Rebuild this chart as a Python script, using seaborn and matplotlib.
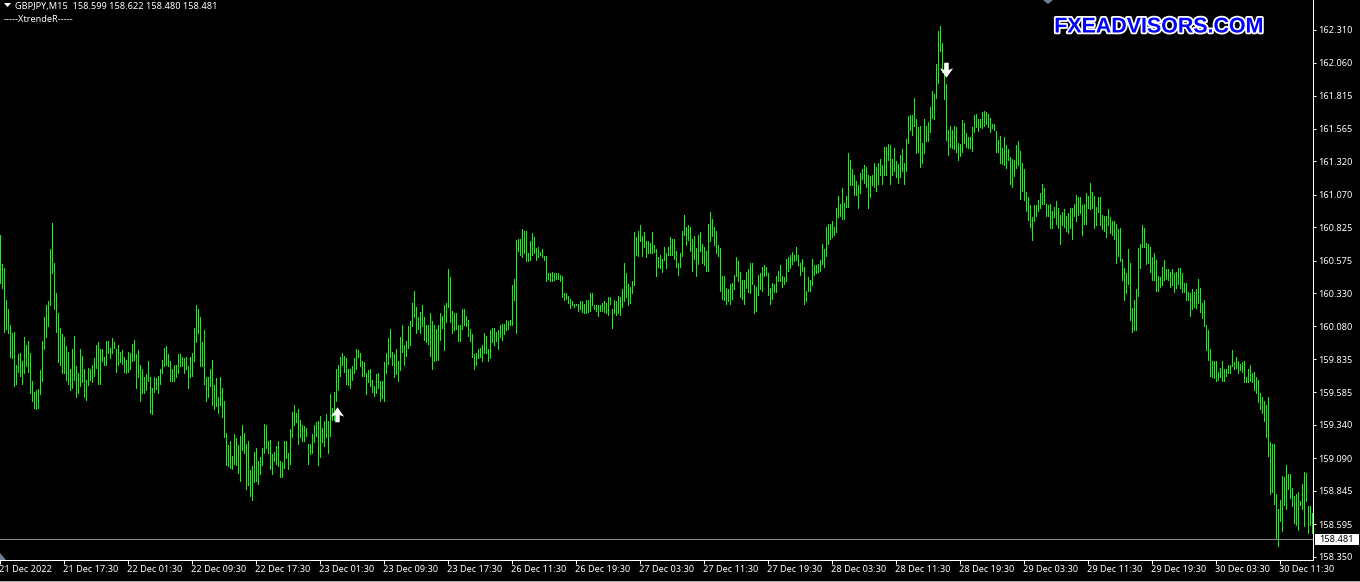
import numpy as np
import pandas as pd
import matplotlib
matplotlib.use("Agg")
import matplotlib.pyplot as plt
import matplotlib.patheffects as pe
from matplotlib.path import Path
import seaborn as sns

highs_a = [160.77,160.55,160.52,160.28,160.21,160.09,160.03,160.04,159.79,159.87,159.88,159.82,160.00,159.94,159.97,159.88,159.67,159.59,159.60,159.61,
159.75,159.97,160.15,160.24,160.27,160.66,160.86,160.56,160.33,160.18,160.07,160.02,160.00,159.93,159.89,159.76,159.91,160.01,159.78,159.73,
159.91,159.86,159.76,159.68,159.77,159.76,159.79,159.84,159.94,159.96,159.91,159.91,159.85,159.97,159.97,159.92,159.99,159.96,159.91,159.94,
159.89,159.90,159.85,159.83,159.89,159.88,159.95,159.98,159.87,159.90,159.79,159.76,159.70,159.72,159.82,159.70,159.62,159.70,159.69,159.71,
159.76,159.83,159.92,159.93,159.87,159.82,159.76,159.79,159.79,159.87,159.87,159.85,159.84,159.85,159.78,159.85,159.88,160.07,160.24,160.21,
160.15,159.96,160.05,159.70,159.70,159.76,159.83,159.64,159.69,159.55,159.70,159.62,159.52,159.28,159.19,159.22,159.11,159.27,159.24,159.19,
159.26,159.34,159.28,159.20,159.22,159.00,159.03,159.14,159.17,159.07,159.10,159.17,159.35,159.34,159.22,159.23,159.12,159.14,159.18,159.22,
159.07,159.06,159.22,159.22,159.13,159.31,159.44,159.49,159.43,159.46,159.38,159.34,159.33,159.32,159.20,159.20,159.27,159.34,159.36,159.37,
159.41,159.32,159.37,159.42,159.37]
lows_a = [160.41,160.37,160.04,160.06,160.03,159.85,159.84,159.63,159.65,159.74,159.71,159.65,159.73,159.78,159.74,159.58,159.52,159.47,159.46,159.47,
159.57,159.67,159.91,160.00,160.08,160.24,160.48,160.21,160.04,159.81,159.79,159.73,159.73,159.68,159.65,159.60,159.62,159.68,159.55,159.58,
159.63,159.66,159.55,159.53,159.64,159.68,159.66,159.71,159.77,159.65,159.65,159.82,159.79,159.79,159.88,159.84,159.88,159.92,159.74,159.79,
159.81,159.80,159.74,159.73,159.74,159.76,159.82,159.83,159.62,159.70,159.52,159.58,159.58,159.60,159.67,159.43,159.42,159.59,159.61,159.58,
159.65,159.73,159.78,159.79,159.78,159.67,159.67,159.67,159.70,159.73,159.78,159.78,159.73,159.76,159.62,159.70,159.71,159.82,159.96,160.03,
159.78,159.78,159.65,159.52,159.55,159.63,159.49,159.46,159.48,159.43,159.49,159.40,159.25,159.04,159.03,159.02,159.01,159.05,159.04,158.98,
158.92,159.15,159.13,158.86,158.89,158.81,158.78,158.91,158.92,158.90,158.97,159.04,159.13,159.17,159.13,159.01,158.97,159.07,159.05,159.03,
158.95,158.95,159.02,159.09,159.01,159.05,159.25,159.34,159.36,159.20,159.25,159.22,159.22,159.26,159.05,159.12,159.13,159.21,159.26,159.04,
159.10,159.21,159.18,159.25,159.13]

highs_b = [159.57,159.47,159.59,159.76,159.79,159.85,159.88,159.86,159.84,159.76,159.76,159.78,159.84,159.91,159.90,159.88,159.82,159.81,159.73,159.75,
159.76,159.68,159.63,159.72,159.73,159.67,159.67,159.81,159.88,159.99,160.06,159.89,159.87,159.91,159.82,160.00,160.09,159.94,159.97,160.08,
160.12,160.26,160.35,160.23,160.15,160.19,160.24,160.15,160.09,160.09,160.18,160.12,160.09,160.06,160.09,160.18,160.16,160.24,160.26,160.51,
160.45,160.20,160.18,160.18,160.09,160.09,160.21,160.21,160.16,160.13,160.06,160.02,159.87,159.88,159.91,159.92,159.94,160.03,160.01,159.91,
160.05,160.07,160.07,160.04,160.05,160.09,160.10,160.10,160.13,160.12,160.13,160.39,160.44,160.73,160.74,160.74,160.81,160.80,160.80,160.63,
160.72,160.78,160.75,160.67,160.68,160.64,160.66,160.61,160.61,160.48,160.48,160.49,160.48,160.48,160.48,160.47,160.46,160.33,160.33,160.31,
160.29,160.27,160.25,160.25,160.25,160.27,160.27,160.25,160.28,160.28,160.33,160.33,160.24,160.24,160.24,160.24,160.26,160.27,160.26,160.30,
160.30,160.21,160.28,160.27,160.31,160.30,160.36,160.56,160.48,160.40,160.38,160.42,160.79,160.75,160.80,160.84,160.76,160.79,160.72,160.72,
160.71,160.79,160.69,160.66,160.60]
lows_b = [159.26,159.38,159.38,159.52,159.60,159.71,159.79,159.74,159.65,159.64,159.62,159.68,159.73,159.76,159.85,159.78,159.71,159.71,159.57,159.66,
159.63,159.59,159.56,159.58,159.62,159.52,159.54,159.52,159.73,159.80,159.85,159.79,159.70,159.72,159.67,159.75,159.89,159.79,159.86,159.92,
159.94,160.08,160.15,160.03,160.06,160.03,160.08,159.98,159.96,159.95,159.86,159.76,159.82,159.83,159.83,159.98,160.07,159.90,160.11,160.23,
160.11,160.03,160.05,160.06,159.97,159.97,160.06,160.09,160.08,160.01,159.97,159.85,159.76,159.79,159.84,159.85,159.82,159.88,159.88,159.82,
159.84,159.96,159.94,159.97,159.91,160.00,159.98,160.02,160.05,160.06,160.09,160.09,160.28,160.03,160.65,160.62,160.60,160.63,160.57,160.57,
160.58,160.62,160.63,160.58,160.60,160.62,160.60,160.58,160.42,160.44,160.42,160.42,160.43,160.44,160.44,160.42,160.30,160.28,160.29,160.26,
160.22,160.24,160.23,160.24,160.20,160.21,160.19,160.18,160.18,160.19,160.20,160.24,160.21,160.20,160.16,160.20,160.20,160.19,160.18,160.17,
160.25,160.07,160.18,160.17,160.18,160.17,160.23,160.27,160.30,160.24,160.26,160.33,160.39,160.62,160.61,160.72,160.61,160.68,160.60,160.63,
160.63,160.63,160.64,160.46,160.53]

highs_c = [160.62,160.59,160.68,160.63,160.68,160.75,160.74,160.74,160.65,160.56,160.63,160.80,160.92,160.83,160.84,160.83,160.74,160.76,160.67,160.77,
160.79,160.70,160.68,160.65,160.85,160.94,160.89,160.83,160.80,160.69,160.67,160.46,160.46,160.37,160.36,160.40,160.41,160.47,160.60,160.57,
160.49,160.43,160.43,160.49,160.51,160.56,160.56,160.39,160.38,160.47,160.48,160.53,160.54,160.53,160.48,160.37,160.41,160.40,160.46,160.50,
160.54,160.46,160.45,160.59,160.60,160.62,160.64,160.62,160.68,160.62,160.56,160.59,160.53,160.35,160.45,160.43,160.59,160.54,160.54,160.55,
160.58,160.70,160.66,160.83,160.85,160.85,160.87,160.83,160.97,161.06,161.00,161.12,161.01,161.06,161.38,161.33,161.26,161.22,161.17,161.14,
161.23,161.26,161.29,161.28,161.22,161.21,161.22,161.31,161.28,161.31,161.34,161.29,161.43,161.43,161.45,161.44,161.34,161.42,161.32,161.30,
161.37,161.41,161.31,161.49,161.66,161.67,161.67,161.80,161.64,161.58,161.59,161.46,161.64,161.59,161.62,161.73,161.85,161.83,162.05,162.30,
162.34,162.21,162.05,161.90,161.56,161.59,161.56,161.59,161.58,161.46,161.45,161.63,161.61,161.53,161.50,161.50,161.58,161.67,161.68,161.64,
161.64,161.69,161.70,161.69,161.68]
lows_c = [160.52,160.49,160.58,160.52,160.62,160.62,160.62,160.59,160.53,160.47,160.53,160.61,160.77,160.69,160.73,160.65,160.50,160.59,160.46,160.55,
160.65,160.56,160.54,160.50,160.50,160.72,160.76,160.69,160.63,160.61,160.35,160.29,160.28,160.25,160.27,160.25,160.29,160.36,160.46,160.42,
160.30,160.29,160.25,160.37,160.34,160.33,160.40,160.18,160.20,160.32,160.36,160.35,160.46,160.47,160.32,160.25,160.29,160.34,160.34,160.42,
160.42,160.38,160.40,160.42,160.50,160.52,160.55,160.57,160.58,160.54,160.47,160.50,160.25,160.27,160.35,160.35,160.39,160.47,160.48,160.49,
160.50,160.55,160.53,160.61,160.70,160.74,160.75,160.77,160.79,160.90,160.91,160.89,160.89,160.98,160.98,161.14,161.14,161.07,161.07,160.97,
161.08,161.19,161.16,161.13,160.97,161.05,161.14,161.13,161.10,161.15,161.22,161.15,161.22,161.22,161.33,161.15,161.22,161.25,161.20,161.16,
161.20,161.25,161.15,161.25,161.46,161.56,161.52,161.59,161.38,161.39,161.28,161.31,161.38,161.47,161.47,161.54,161.65,161.64,161.80,161.91,
162.15,161.99,161.79,161.48,161.37,161.43,161.42,161.41,161.39,161.33,161.36,161.39,161.46,161.43,161.42,161.42,161.40,161.54,161.58,161.55,
161.58,161.57,161.59,161.60,161.58]

highs_d = [161.65,161.60,161.60,161.55,161.48,161.51,161.42,161.50,161.44,161.41,161.35,161.34,161.33,161.44,161.47,161.40,161.31,161.26,161.09,161.05,
160.99,160.90,160.99,160.99,161.03,161.08,161.15,161.12,161.00,160.99,161.00,160.95,160.98,161.02,160.97,160.92,160.94,160.96,160.91,160.93,
160.97,160.97,161.00,161.07,161.05,161.05,160.99,161.00,161.08,161.06,161.16,161.09,161.06,160.98,161.05,161.05,160.92,160.91,160.91,160.96,
160.90,160.87,160.87,160.85,160.81,160.82,160.59,160.52,160.48,160.66,160.56,160.22,160.28,160.36,160.67,160.70,160.84,160.82,160.71,160.70,
160.68,160.60,160.63,160.58,160.46,160.45,160.53,160.58,160.51,160.51,160.49,160.51,160.48,160.49,160.52,160.52,160.48,160.41,160.41,160.34,
160.33,160.36,160.34,160.36,160.44,160.37,160.26,160.28,160.09,160.05]
lows_d = [161.54,161.57,161.56,161.39,161.39,161.31,161.30,161.29,161.27,161.33,161.15,161.13,161.21,161.27,161.29,161.04,161.10,161.03,160.95,160.88,
160.83,160.73,160.87,160.91,160.95,160.97,161.00,161.00,160.91,160.91,160.82,160.82,160.90,160.85,160.82,160.70,160.84,160.83,160.80,160.78,
160.82,160.74,160.91,160.87,160.92,160.93,160.77,160.85,160.85,160.97,160.96,160.97,160.82,160.84,160.94,160.84,160.81,160.80,160.75,160.84,
160.78,160.77,160.74,160.56,160.61,160.57,160.43,160.28,160.33,160.40,160.13,160.04,160.05,160.05,160.31,160.52,160.68,160.68,160.55,160.56,
160.49,160.43,160.43,160.35,160.35,160.38,160.39,160.43,160.44,160.43,160.38,160.39,160.34,160.37,160.40,160.37,160.34,160.34,160.28,160.28,
160.16,160.21,160.23,160.22,160.26,160.19,160.14,160.08,159.90,159.83]

highs_e = [159.91,159.82,159.82,159.82,159.74,159.77,159.82,159.76,159.76,159.79,159.79,159.90,159.81,159.85,159.82,159.80,159.81,159.82,159.70,159.76,
159.79,159.73,159.74,159.70,159.68,159.58,159.55,159.52,159.49,159.55,159.21,159.20,159.20,158.82,158.71,158.78,158.96,158.95,159.04,158.97,
158.97,158.87,158.81,158.82,158.84,158.77,158.90,158.99,158.98,158.73,158.73,158.68]
lows_e = [159.71,159.70,159.69,159.67,159.68,159.70,159.67,159.67,159.71,159.73,159.73,159.78,159.76,159.77,159.73,159.75,159.74,159.66,159.66,159.66,
159.67,159.66,159.60,159.58,159.51,159.46,159.43,159.37,159.25,159.11,158.82,158.84,158.75,158.49,158.43,158.62,158.54,158.74,158.71,158.86,
158.79,158.73,158.60,158.59,158.55,158.74,158.71,158.58,158.77,158.53,158.59,158.53]

y_ticks = [162.310,162.060,161.815,161.565,161.320,161.070,160.825,160.575,160.330,160.080,
           159.835,159.585,159.340,159.090,158.845,158.595,158.350]
x_labels = ["21 Dec 2022","21 Dec 17:30","22 Dec 01:30","22 Dec 09:30","22 Dec 17:30","23 Dec 01:30",
            "23 Dec 09:30","23 Dec 17:30","26 Dec 11:30","26 Dec 19:30","27 Dec 03:30","27 Dec 11:30",
            "27 Dec 19:30","28 Dec 03:30","28 Dec 11:30","28 Dec 19:30","29 Dec 03:30","29 Dec 11:30",
            "29 Dec 19:30","30 Dec 03:30","30 Dec 11:30"]
bid = 158.481
buy_signal = (168.5, 159.42)
sell_signal = (472.8, 162.01)

highs = highs_a + highs_b + highs_c + highs_d + highs_e
lows = lows_a + lows_b + lows_c + lows_d + lows_e
n = len(highs)
assert n == len(lows)
bars = np.arange(n)

FONT = "Noto Sans"
FS = 6.6
W, H = 1360, 582
sns.set_theme(style="dark", rc={"axes.grid": False})
plt.rcParams["font.family"] = [FONT, "DejaVu Sans"]
plt.rcParams["lines.antialiased"] = False

fig = plt.figure(figsize=(W / 100, H / 100), dpi=100, facecolor="black")
ax = fig.add_axes([0, (H - 560.2) / H, 1313.2 / W, 560.2 / H], facecolor="black")

df = pd.DataFrame({
    "bar": np.concatenate([bars, bars]),
    "price": highs + lows,
})
sns.lineplot(data=df, x="bar", y="price", units="bar", estimator=None, color="#00ff00",
             linewidth=0.72, ax=ax, legend=False, sort=False, solid_capstyle="butt",
             antialiased=False)

ax.set_xlim(-0.125, 656.475)
ax.set_ylim(158.324, 162.533)
ax.axhline(bid, color="#8c8c8c", lw=0.72, antialiased=False)

for s in ["top", "left"]:
    ax.spines[s].set_visible(False)
for s in ["right", "bottom"]:
    ax.spines[s].set_color("white")
    ax.spines[s].set_linewidth(0.72)
    ax.spines[s].set_antialiased(False)

ax.set_xticks(np.arange(len(x_labels)) * 32)
ax.set_xticklabels(x_labels, ha="left", color="white", fontsize=FS)
ax.set_yticks(y_ticks)
ax.set_yticklabels([f"{v:.3f}" for v in y_ticks], color="white", fontsize=FS)
ax.yaxis.tick_right()
ax.tick_params(axis="x", length=3, width=0.72, color="white", pad=0.5, bottom=True)
ax.tick_params(axis="y", length=2.5, width=0.72, color="white", pad=1, right=True, left=False)
ax.set_xlabel("")
ax.set_ylabel("")
for lab in ax.get_xticklabels():
    lab.set_transform(lab.get_transform() + matplotlib.transforms.Affine2D().translate(-1.5, 0))

up = Path([(-6, -2), (0, 6.5), (6, -2), (2, -0.5), (2, -7), (-2, -7), (-2, -0.5), (-6, -2)], closed=True)
down = Path([(-6, 2), (0, -6.5), (6, 2), (2, 0.5), (2, 7), (-2, 7), (-2, 0.5), (-6, 2)], closed=True)
ax.scatter(*buy_signal, marker=up, s=125, color="white", linewidths=0, zorder=5, clip_on=False)
ax.scatter(*sell_signal, marker=down, s=125, color="white", linewidths=0, zorder=5, clip_on=False)

fig.text(15 / W, 1 - 6 / H, "GBPJPY,M15  158.599 158.622 158.480 158.481", color="white", fontsize=FS, va="center", ha="left")
fig.text(4 / W, 1 - 20 / H, "-----XtrendeR-----", color="white", fontsize=FS, va="center", ha="left")

fig.text(1158.5 / W, 1 - 27 / H, "FXEADVISORS.COM", color="#0000ff", fontsize=15.4, fontweight="bold",
         family="Liberation Sans", ha="center", va="center",
         path_effects=[pe.withStroke(linewidth=2.6, foreground="white")])

px = lambda x, y: (x / W, 1 - y / H)
fig.add_artist(plt.Rectangle(px(1315, 545), 44 / W, 11 / H, color="white", lw=0, transform=fig.transFigure))
fig.text(1319 / W, 1 - 539.5 / H, f"{bid:.3f}", color="black", fontsize=FS, ha="left", va="center")

fig.add_artist(plt.Rectangle(px(0, 582), 1, 1 / H, color="#a8a8a8", lw=0, transform=fig.transFigure))
for verts, c in [([(4, 3), (11, 3), (7.5, 7)], "white"),
                 ([(1043, 0), (1053, 0), (1048, 4)], "#708090"),
                 ([(0, 553), (0, 560), (6, 560)], "#708090")]:
    fig.add_artist(plt.Polygon([px(*v) for v in verts], closed=True, color=c, lw=0, transform=fig.transFigure))

fig.savefig("out.png", dpi=100, facecolor="black")
